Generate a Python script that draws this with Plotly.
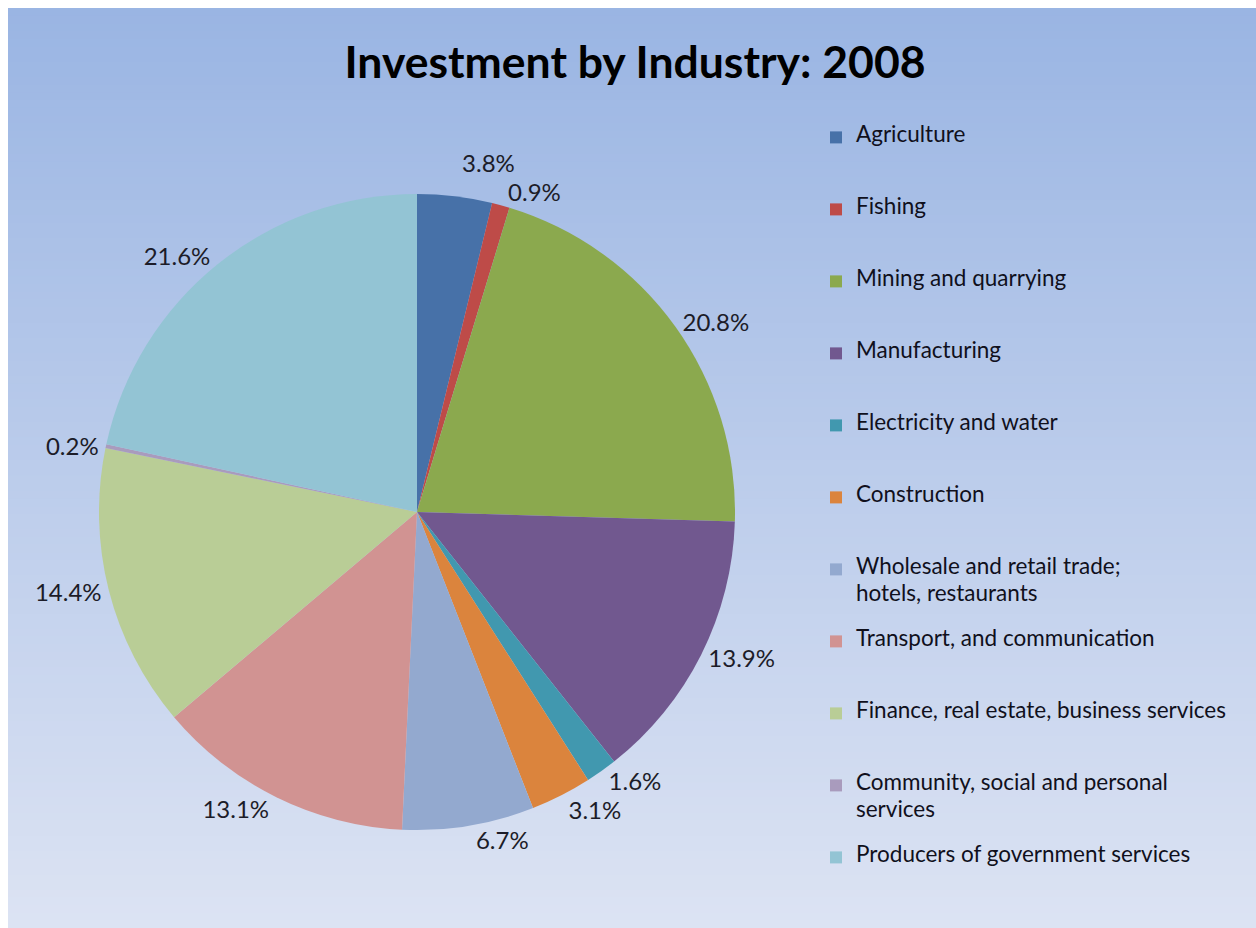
import plotly.graph_objects as go

# Investment share by industry, 2008 (percent)
industries = [
    "Agriculture",
    "Fishing",
    "Mining and quarrying",
    "Manufacturing",
    "Electricity and water",
    "Construction",
    ["Wholesale and retail trade;", "hotels, restaurants"],
    "Transport, and communication",
    "Finance, real estate, business services",
    ["Community, social and personal", "services"],
    "Producers of government services",
]
shares = [3.8, 0.9, 20.8, 13.9, 1.6, 3.1, 6.7, 13.1, 14.4, 0.2, 21.6]
colors = [
    "#4771A8", "#BE4B48", "#8BA94E", "#71588F", "#4198AF", "#DB843D",
    "#93A9CF", "#D19392", "#B9CD96", "#A99BBD", "#93C4D4",
]

W, H = 1256, 928
FONT = "Lato"
ROWS = 5          # text rows per legend entry
ROW_PITCH = 13.8  # px per row -> 72 px per entry


def legend_label(name):
    # Each entry uses the same number of rows so entries are evenly spaced;
    # a wrapped name puts its second line two rows below the first.
    lines = [name] if isinstance(name, str) else list(name)
    rows = ["\u00a0"] * ROWS
    for k, line in enumerate(lines):
        rows[2 * k] = f"<span style='font-size:22.5px'>{line}</span>"
    return "<br>".join(rows)


fig = go.Figure()

fig.add_trace(go.Pie(
    labels=[legend_label(n) for n in industries],
    values=shares,
    sort=False,
    direction="clockwise",
    rotation=0,
    marker=dict(colors=colors, line=dict(width=0)),
    texttemplate="%{value:.1f}%",
    textposition="outside",
    textfont=dict(family=FONT, size=24, color="#1c1c28"),
    hoverinfo="label+value",
    domain=dict(x=[95 / W, 739 / W], y=[(H - 830) / H, (H - 194) / H]),
))

# vertical gradient background inside a thin white border
n_bands = 120
top_rgb = (154, 181, 227)
bot_rgb = (220, 227, 243)
x0, y0 = 8 / W, 0.0
y1 = 1 - 8 / H
shapes = []
for i in range(n_bands):
    t = i / (n_bands - 1)
    r = round(top_rgb[0] + (bot_rgb[0] - top_rgb[0]) * t)
    g = round(top_rgb[1] + (bot_rgb[1] - top_rgb[1]) * t)
    b = round(top_rgb[2] + (bot_rgb[2] - top_rgb[2]) * t)
    ya = y1 - (y1 - y0) * i / n_bands
    yb = y1 - (y1 - y0) * (i + 1) / n_bands
    shapes.append(dict(
        type="rect", xref="paper", yref="paper",
        x0=x0, x1=1, y0=max(yb - 0.002, 0), y1=ya,
        fillcolor=f"rgb({r},{g},{b})", line=dict(width=0), layer="below",
    ))

fig.update_layout(
    width=W,
    height=H,
    margin=dict(l=0, r=0, t=0, b=0),
    paper_bgcolor="white",
    plot_bgcolor="rgba(0,0,0,0)",
    shapes=shapes,
    title=dict(
        text="<b>Investment by Industry: 2008</b>",
        x=635 / W, xanchor="center",
        y=1 - 62 / H, yanchor="middle",
        font=dict(family=FONT, size=44.5, color="#000000"),
    ),
    legend=dict(
        x=816 / W, xanchor="left",
        y=1 - 124 / H, yanchor="top",
        bgcolor="rgba(0,0,0,0)",
        font=dict(family=FONT, size=ROW_PITCH / 1.3, color="#10101c"),
        valign="top",
        itemwidth=30,
        tracegroupgap=0,
    ),
    showlegend=True,
)

# percentage labels stand on their own, without leader lines
hide_leaders = (
    "document.querySelectorAll('path.textline')"
    ".forEach(function(p){p.style.display='none';});"
)

fig.write_html("out.html", post_script=hide_leaders)
